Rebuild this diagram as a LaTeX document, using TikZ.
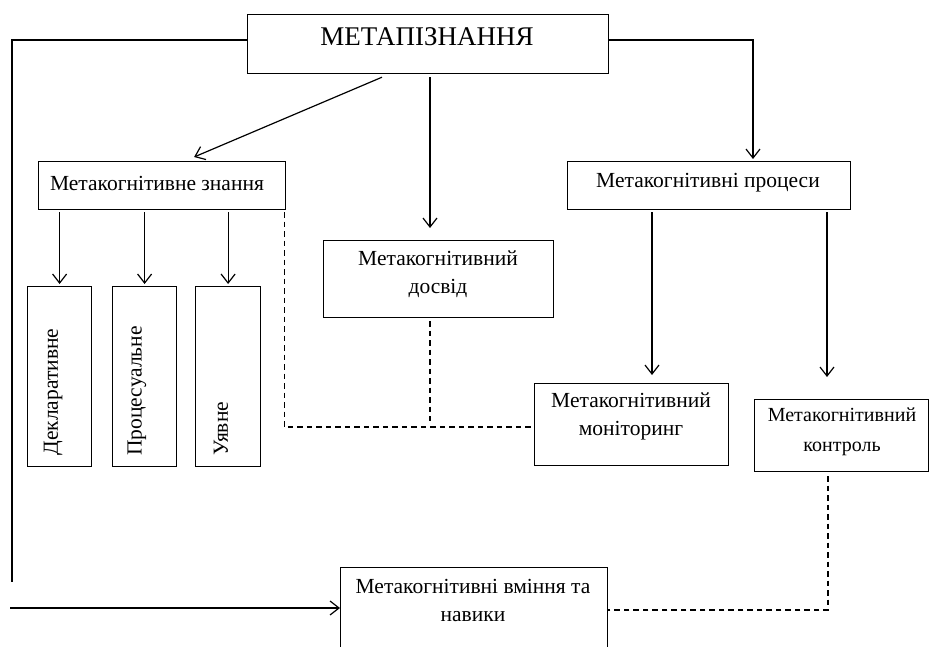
\documentclass[tikz,border=0pt]{standalone}
\usepackage{fontspec}
\setmainfont{Liberation Serif}
\usetikzlibrary{arrows.meta,calc}
\begin{document}
\begin{tikzpicture}[x=1pt,y=-1pt,
  box/.style={draw,line width=1.2pt,rectangle,inner sep=0pt,anchor=north west},
  txt/.style={inner sep=0pt,align=center,font=\fontsize{21.5}{28}\selectfont},
  vtxt/.style={inner sep=0pt,rotate=90,anchor=west,font=\fontsize{21.5}{25}\selectfont},
  arr/.style={line width=1.2pt,-{Straight Barb[length=9pt,width=14pt,line width=1.2pt]}},
  ln/.style={line width=1.2pt},
  dsh/.style={line width=1.2pt,dash pattern=on 5.5pt off 4pt}]
\useasboundingbox (0,0) rectangle (932,646);
\clip (0,0) rectangle (932,646);
% boxes
\node[box,minimum width=361pt,minimum height=59pt] (top) at (247,14) {};
\node[inner sep=0pt,font=\fontsize{27}{30}\selectfont] (toptxt) at (427,37) {МЕТАПІЗНАННЯ};
\node[box,minimum width=247pt,minimum height=48pt] (znan) at (38,161) {};
\node[txt] (znantxt) at (157,183) {Метакогнітивне знання};
\node[box,minimum width=283pt,minimum height=48pt] (proc) at (567,161) {};
\node[txt] (proctxt) at (708,183) {Метакогнітивні процеси};
\node[box,minimum width=230pt,minimum height=77pt] (dos) at (323,240) {};
\node[txt] (dostxt) at (438,274) {Метакогнітивний\\досвід};
\node[box,minimum width=64pt,minimum height=180pt] (D) at (27,286) {};
\node[box,minimum width=64pt,minimum height=180pt] (P) at (112,286) {};
\node[box,minimum width=65pt,minimum height=180pt] (U) at (195,286) {};
\node[vtxt] (Dt) at (53,456) {Декларативне};
\node[vtxt] (Pt) at (137,456) {Процесуальне};
\node[vtxt] (Ut) at (221,456) {Уявне};
\node[box,minimum width=194pt,minimum height=82pt] (mon) at (534,383) {};
\node[txt] (montxt) at (631,416) {Метакогнітивний\\моніторинг};
\node[box,minimum width=174pt,minimum height=72pt] (con) at (754,399) {};
\node[txt,font=\fontsize{20}{30}\selectfont] (contxt) at (842,432) {Метакогнітивний\\контроль};
\node[box,minimum width=267pt,minimum height=100pt] (sk) at (340,567) {};
\node[txt] (sktxt) at (473,600) {Метакогнітивні вміння та\\навики};
% coordinates
\coordinate (Lend) at (12,582);
\coordinate (Lstart) at (10,608);
% connectors
\draw[ln] ($(top.north west)+(0,26)$) -| (Lend);
\draw[arr] ($(top.north east)+(0,26)$) -| ($(proc.north west)+(186,-2)$);
\draw[arr] ($(top.south west)+(135,3)$) -- ($(znan.north)+(32,-4)$);
\draw[arr] ($(top.south west)+(183,3)$) -- ($(dos.north west)+(107,-12)$);
\draw[arr,shorten >=2pt] (D.north |- znan.south) ++(0,2) -- (D.north);
\draw[arr,shorten >=2pt] (P.north |- znan.south) ++(0,2) -- (P.north);
\draw[arr,shorten >=2pt] (U.north |- znan.south) ++(0,2) -- (U.north);
\draw[arr] ($(proc.south west)+(85,2)$) -- ($(mon.north west)+(118,-8)$);
\draw[arr] ($(proc.south west)+(260,2)$) -- ($(con.north west)+(73,-22)$);
\draw[dsh] ($(znan.south east)+(-2,2)$) |- (mon.west |- 0,427);
\draw[dsh] ($(dos.south west)+(107,3)$) -- ++(0,100);
\draw[dsh] ($(con.south west)+(74,4)$) |- (sk.east |- 0,610);
\draw[arr] (Lstart) -- (sk.west |- Lstart);
\end{tikzpicture}
\end{document}
